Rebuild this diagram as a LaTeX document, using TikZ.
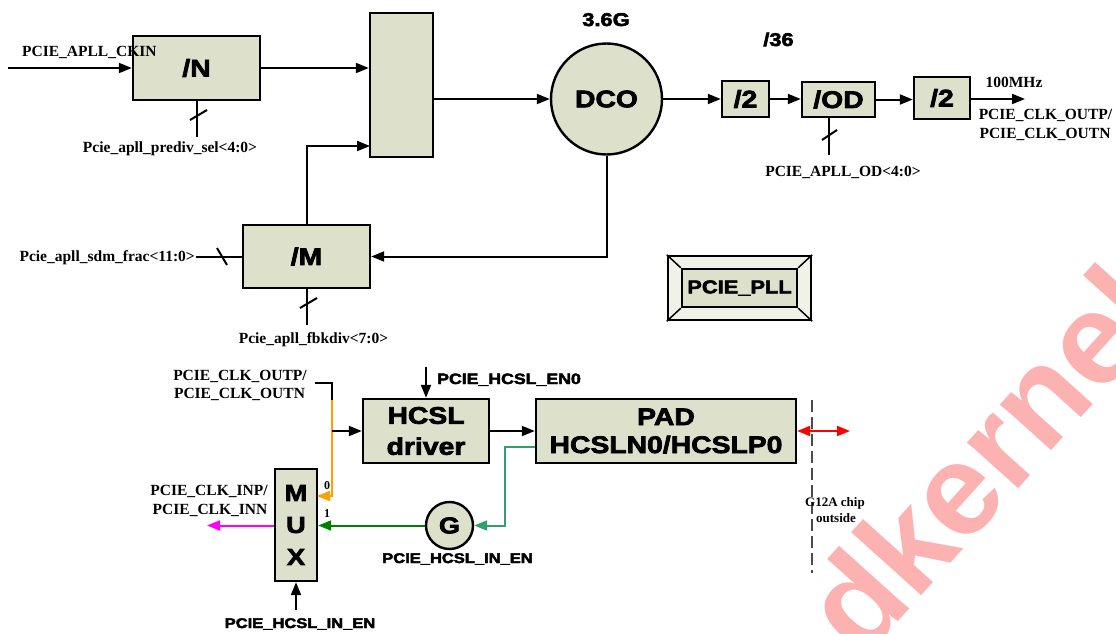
\documentclass[tikz,border=0pt]{standalone}
\usepackage{fontspec}
\setmainfont{Liberation Serif}
\newfontfamily\wsans[FakeStretch=1.18]{Liberation Sans}
\newfontfamily\bxfont[FakeStretch=1.18,BoldFeatures={FakeBold=3}]{Liberation Sans}
\newfontfamily\wmfont{Liberation Sans}
\usetikzlibrary{arrows.meta,shapes.geometric}
\definecolor{boxfill}{RGB}{221,224,203}
\definecolor{bevel}{RGB}{240,242,232}
\definecolor{ocol}{RGB}{255,160,0}
\definecolor{gcol}{RGB}{50,160,110}
\definecolor{dgcol}{RGB}{0,128,0}
\definecolor{mcol}{RGB}{255,0,255}
\definecolor{wmcol}{RGB}{253,178,178}
\begin{document}
\begin{tikzpicture}[x=1pt,y=-1pt,
  blk/.style={draw,line width=2.4pt,fill=boxfill,inner sep=0pt,align=center,
    font=\bxfont\bfseries\fontsize{24}{31}\selectfont},
  arr/.style={line width=2pt,-{Triangle[length=13pt,width=10pt]}},
  wire/.style={line width=2pt},
  lbl/.style={font=\bfseries\fontsize{15.5}{17}\selectfont,inner sep=0pt,anchor=base},
  slbl/.style={font=\wsans\bfseries\fontsize{14}{16}\selectfont,inner sep=0pt,anchor=base}]
\useasboundingbox (0,0) rectangle (1116,634);

% watermark
\begin{scope}
\clip (0,0) rectangle (1116,634);
\node[text=wmcol,font=\wmfont\bfseries\fontsize{130}{130}\selectfont,inner sep=0pt,
  anchor=base west,rotate=48] (wm1) at (862,662) {dkernel};
\end{scope}

% ---------- PLL ----------
\node[blk,minimum width=127pt,minimum height=64pt] (N) at (196.5,68) {/N};
\node[blk,minimum width=63pt,minimum height=144pt] (big) at (401.5,85) {};
\node[blk,circle,minimum size=111pt] (DCO) at (606.5,99) {DCO};
\node[blk,minimum width=47pt,minimum height=36pt] (d2a) at (745.5,99) {/2};
\node[blk,minimum width=73pt,minimum height=35pt] (OD) at (838.5,99.5) {/OD};
\node[blk,minimum width=56pt,minimum height=42pt] (d2b) at (942,98) {/2};
\node[blk,minimum width=127pt,minimum height=63pt] (M) at (306.5,256.5) {/M};

\coordinate (cin) at (8,68);
\draw[arr] (cin) -- (N.west);
\draw[arr] (N.east) -- (N.east -| big.west);
\coordinate (fbk) at (370,146);
\draw[arr] (M.north) |- (fbk);
\draw[arr] (DCO.west -| big.east) -- (DCO.west);
\draw[arr] (DCO.east) -- (d2a.west);
\draw[arr] (d2a.east) -- (d2a.east -| OD.west);
\draw[arr] (OD.east) -- (OD.east -| d2b.west);
\coordinate (cout) at (1025,99);
\draw[arr] (d2b.east |- cout) -- (cout);
\draw[arr] (DCO.south) |- (M.east);

% bus ticks
\coordinate (ntick) at (197,137);
\draw[wire] (N.south -| ntick) -- (ntick);
\draw[wire] (190,120) -- (207,110);
\coordinate (odt) at (829,155);
\draw[wire] (OD.south -| odt) -- (odt);
\draw[wire] (822,140) -- (837,130);
\coordinate (sdm) at (196,257);
\draw[wire] (sdm) -- (sdm -| M.west);
\draw[wire] (217,248) -- (227,265);
\coordinate (fbt) at (307,325);
\draw[wire] (M.south -| fbt) -- (fbt);
\draw[wire] (300,308) -- (317,298);

% labels
\node[lbl,anchor=base west] (lckin) at (22,57) {PCIE\_APLL\_CKIN};
\node[lbl] (lpre) at (170,152) {Pcie\_apll\_prediv\_sel<4:0>};
\node[slbl,font=\bxfont\bfseries\fontsize{18.5}{20}\selectfont] (l36g) at (606,26) {3.6G};
\node[slbl,font=\bxfont\bfseries\fontsize{18.5}{20}\selectfont] (l36) at (778.5,46) {/36};
\node[lbl] (l100) at (1014,88) {100MHz};
\node[lbl] (lop) at (1045.5,119) {PCIE\_CLK\_OUTP/};
\node[lbl] (lon) at (1045,138) {PCIE\_CLK\_OUTN};
\node[lbl] (lod) at (843,176) {PCIE\_APLL\_OD<4:0>};
\node[lbl,anchor=base east] (lsdm) at (195,261) {Pcie\_apll\_sdm\_frac<11:0>};
\node[lbl] (lfb) at (313.5,343) {Pcie\_apll\_fbkdiv<7:0>};

% PCIE_PLL bevel box
\node[draw,line width=2.4pt,fill=bevel,minimum width=143pt,minimum height=64pt,inner sep=0pt] (pllo) at (739.5,288) {};
\draw[line width=1.5pt] (pllo.north west) -- ++(14,13) (pllo.north east) -- ++(-14,13)
  (pllo.south west) -- ++(14,-13) (pllo.south east) -- ++(-14,-13);
\node[draw,line width=1.5pt,fill=boxfill,minimum width=115pt,minimum height=38pt,inner sep=0pt,
  font=\bxfont\bfseries\fontsize{18.5}{20}\selectfont] (plli) at (739.5,288) {PCIE\_PLL};

% ---------- HCSL ----------
\node[blk,minimum width=126pt,minimum height=64pt] (HCSL) at (426,431) {HCSL\\driver};
\node[blk,minimum width=260pt,minimum height=64pt,font=\bxfont\bfseries\fontsize{24}{28}\selectfont] (PAD) at (666,431) {PAD\\HCSLN0/HCSLP0};
\node[blk,minimum width=42pt,minimum height=112pt,font=\bxfont\bfseries\fontsize{23}{32}\selectfont] (MUX) at (296,525) {M\\U\\X};
\node[blk,circle,minimum size=47pt,font=\bxfont\bfseries\fontsize{23}{25}\selectfont] (G) at (449.5,525.5) {G};

\coordinate (co) at (315,383);
\coordinate (cc) at (332,383);
\coordinate (cj) at (332,400);
\coordinate (cb) at (332,431);
\coordinate (m0) at (317,496);
\draw[wire] (co) -- (cc) -- (cj);
\draw[arr,ocol] (cj) |- (m0);
\draw[arr] (cb) -- (HCSL.west);
\coordinate (en0) at (426,367);
\draw[arr] (en0) -- (HCSL.north);
\draw[arr] (HCSL.east) -- (PAD.west);
\coordinate (gturn) at (505,447);
\draw[arr,gcol] (PAD.west |- gturn) -- (gturn) |- (G.east);
\draw[arr,dgcol] (G.west) -- (G.west -| MUX.east);
\coordinate (cinp) at (207,525.5);
\draw[arr,mcol] (MUX.west |- cinp) -- (cinp);
\coordinate (muxen) at (296,610);
\draw[arr] (muxen) -- (MUX.south);
\coordinate (ext) at (850,431);
\draw[red,line width=2pt,{Triangle[length=13pt,width=10pt]}-{Triangle[length=13pt,width=10pt]}] (PAD.east) -- (ext);
\coordinate (d1) at (812,400);
\coordinate (d2) at (812,573);
\draw[black!70,line width=1.5pt,dash pattern=on 12pt off 5pt] (d1) -- (d2);

\node[lbl] (bop) at (240,380) {PCIE\_CLK\_OUTP/};
\node[lbl] (bon) at (239.5,398) {PCIE\_CLK\_OUTN};
\node[slbl,anchor=base west,font=\bxfont\bfseries\fontsize{15}{17}\selectfont] (len0) at (437,384) {PCIE\_HCSL\_EN0};
\node[lbl,font=\bfseries\fontsize{12}{13}\selectfont] (l0) at (327,489) {0};
\node[lbl,font=\bfseries\fontsize{12}{13}\selectfont] (l1) at (327,517) {1};
\node[lbl] (linp) at (209,495) {PCIE\_CLK\_INP/};
\node[lbl] (linn) at (210,514) {PCIE\_CLK\_INN};
\node[slbl,font=\bxfont\bfseries\fontsize{14}{16}\selectfont] (lgen) at (457.5,563) {PCIE\_HCSL\_IN\_EN};
\node[slbl,font=\bxfont\bfseries\fontsize{14}{16}\selectfont] (lmen) at (300,628) {PCIE\_HCSL\_IN\_EN};
\node[lbl,font=\bfseries\fontsize{13}{14}\selectfont] (lg12) at (835,506) {G12A chip};
\node[lbl,font=\bfseries\fontsize{13}{14}\selectfont] (lout) at (836,522) {outside};
\end{tikzpicture}
\end{document}
